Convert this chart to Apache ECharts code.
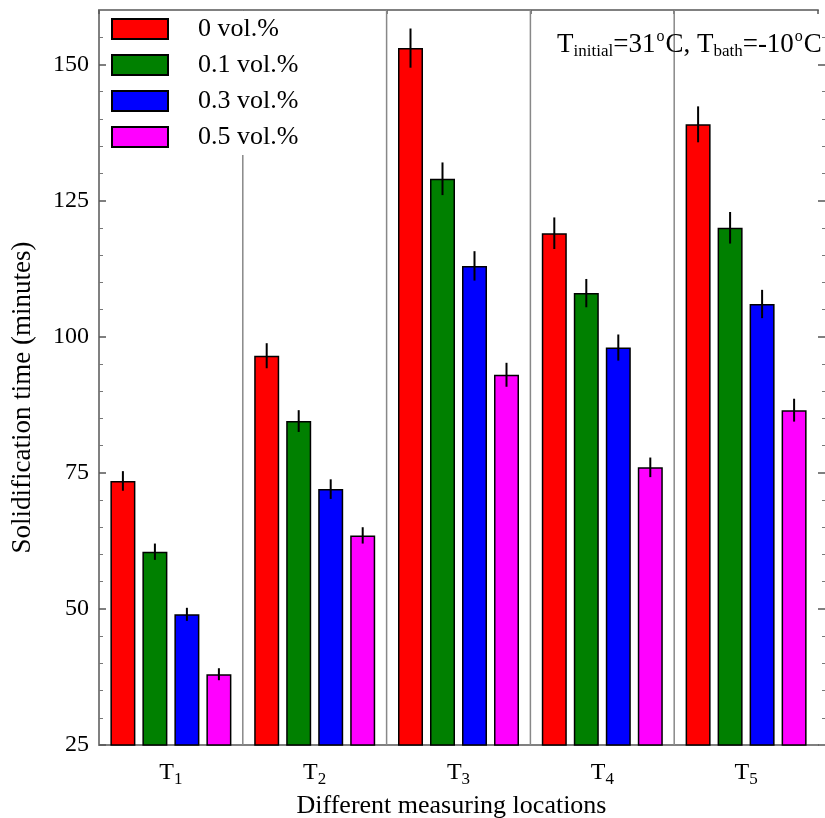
<!DOCTYPE html>
<html>
<head>
<meta charset="utf-8">
<script src="https://cdn.jsdelivr.net/npm/echarts@6/dist/echarts.min.js"></script>
<style>
html,body{margin:0;padding:0;background:#fff;}
#chart{width:825px;height:818px;}
</style>
</head>
<body>
<div id="chart"></div>
<script>
// ---- data ----
const categories = ['T1', 'T2', 'T3', 'T4', 'T5'];
const seriesNames = ['0 vol.%', '0.1 vol.%', '0.3 vol.%', '0.5 vol.%'];
const vol0  = [73.5, 96.5, 153, 119, 139];
const vol01 = [60.5, 84.5, 129, 108, 120];
const vol03 = [49, 72, 113, 98, 106];
const vol05 = [38, 63.5, 93, 76, 86.5];
const err0  = [1.8, 2.3, 3.6, 2.9, 3.3];
const err01 = [1.5, 2.0, 3.0, 2.6, 2.9];
const err03 = [1.2, 1.8, 2.7, 2.4, 2.6];
const err05 = [1.1, 1.5, 2.2, 1.8, 2.1];
const majorTicks = [25, 50, 75, 100, 125, 150];
const minorTicks = [30, 35, 40, 45, 55, 60, 65, 70, 80, 85, 90, 95, 105, 110, 115, 120, 130, 135, 140, 145, 155];
const separators = [1, 2, 3, 4];   // boundaries between location groups
const yMin = 25, yMax = 160;

// ---- style ----
const colors = ['#ff0000', '#008000', '#0000ff', '#ff00ff'];
const FONT = 'Liberation Serif';
const BAR_W = 25, GAP_RATIO = 0.28;
const axisGrey = '#808080';

const values = [vol0, vol01, vol03, vol05];
const errors = [err0, err01, err03, err05];

const errData = [];
values.forEach((vals, s) => {
  vals.forEach((v, c) => errData.push([c, v, errors[s][c], s]));
});

const chart = echarts.init(document.getElementById('chart'), null, {renderer: 'canvas'});

const barSeries = seriesNames.map((name, s) => ({
  name: name,
  type: 'bar',
  data: values[s],
  barWidth: BAR_W,
  barGap: (GAP_RATIO * 100) + '%',
  itemStyle: {color: colors[s], borderColor: '#000', borderWidth: 1.5},
  emphasis: {disabled: true},
  z: 2
}));

const errSeries = {
  type: 'custom',
  name: 'err',
  data: errData,
  encode: {x: 0, y: 1},
  z: 5,
  silent: true,
  renderItem: function (params, api) {
    const c = api.value(0), v = api.value(1), e = api.value(2), s = api.value(3);
    const step = BAR_W * (1 + GAP_RATIO);
    const off = (s - 1.5) * step;
    const top = api.coord([c, v + e]);
    const bot = api.coord([c, v - e]);
    return {
      type: 'line',
      shape: {x1: top[0] + off, y1: top[1], x2: bot[0] + off, y2: bot[1]},
      style: {stroke: '#000', lineWidth: 2}
    };
  }
};

const sepSeries = {
  type: 'custom',
  name: 'sep',
  xAxisIndex: 1,
  yAxisIndex: 0,
  data: separators.map(b => [b, yMin]),
  encode: {x: 0, y: 1},
  z: 1,
  silent: true,
  renderItem: function (params, api) {
    const p = api.coord([api.value(0), yMin]);
    const cs = params.coordSys;
    return {
      type: 'line',
      shape: {x1: p[0], y1: cs.y, x2: p[0], y2: cs.y + cs.height},
      style: {stroke: '#888', lineWidth: 1.5}
    };
  }
};

const option = {
  backgroundColor: '#fff',
  animation: false,
  grid: {left: 99, right: 7, top: 10, bottom: 73, outerBoundsMode: 'none', containLabel: false},
  legend: {
    data: seriesNames,
    orient: 'vertical',
    left: 106,
    top: 11,
    padding: 5,
    itemWidth: 56,
    itemHeight: 20,
    itemGap: 10,
    icon: 'rect',
    backgroundColor: '#fff',
    selectedMode: false,
    textStyle: {fontFamily: FONT, fontSize: 26, color: '#000', padding: [0, 0, 0, 25]},
    z: 10
  },
  xAxis: [{
    type: 'category',
    data: categories,
    position: 'bottom',
    axisLine: {show: true, lineStyle: {color: axisGrey, width: 2}},
    axisTick: {show: false},
    splitLine: {show: false},
    axisLabel: {
      margin: 14,
      formatter: function (v) { return '{t|' + v.charAt(0) + '}{s|' + v.slice(1) + '}'; },
      rich: {
        t: {fontFamily: FONT, fontSize: 24, color: '#000', lineHeight: 28},
        s: {fontFamily: FONT, fontSize: 17, color: '#000', lineHeight: 17, padding: [13, 0, 0, 0]}
      }
    },
    name: 'Different measuring locations',
    nameLocation: 'middle',
    nameGap: 38,
    nameTextStyle: {fontFamily: FONT, fontSize: 26, color: '#000', padding: [0, 14, 0, 0]}
  }, {
    type: 'value',
    min: 0, max: 5, interval: 1,
    position: 'top',
    axisLine: {show: true, lineStyle: {color: axisGrey, width: 2}},
    axisTick: {show: true, inside: true, length: 4, lineStyle: {color: '#555', width: 1.5}},
    axisLabel: {show: false},
    splitLine: {show: false}
  }],
  yAxis: [{
    type: 'value',
    min: yMin, max: yMax, interval: 25,
    position: 'left',
    axisLine: {show: true, lineStyle: {color: axisGrey, width: 2}},
    axisTick: {show: true, inside: true, length: 7, customValues: majorTicks, lineStyle: {color: '#555', width: 1.5}},
    axisLabel: {customValues: majorTicks, fontFamily: FONT, fontSize: 24, color: '#000', margin: 10},
    splitLine: {show: false},
    name: 'Solidification time (minutes)',
    nameLocation: 'middle',
    nameGap: 63,
    nameTextStyle: {fontFamily: FONT, fontSize: 27, color: '#000', padding: [0, 40, 0, 0]}
  }, {
    type: 'value',
    min: yMin, max: yMax, interval: 25,
    position: 'left',
    axisLine: {show: false},
    axisTick: {show: true, inside: true, length: 4, customValues: minorTicks, lineStyle: {color: '#777', width: 1}},
    axisLabel: {show: false},
    splitLine: {show: false}
  }, {
    type: 'value',
    min: yMin, max: yMax, interval: 25,
    position: 'right',
    offset: 7,
    axisLine: {show: false},
    axisTick: {show: true, inside: true, length: 7, customValues: majorTicks, lineStyle: {color: '#555', width: 1.5}},
    axisLabel: {show: false},
    splitLine: {show: false}
  }, {
    type: 'value',
    min: yMin, max: yMax, interval: 25,
    position: 'right',
    offset: 7,
    axisLine: {show: false},
    axisTick: {show: true, inside: true, length: 3, customValues: minorTicks, lineStyle: {color: '#777', width: 1}},
    axisLabel: {show: false},
    splitLine: {show: false}
  }],
  graphic: [{
    type: 'text',
    left: 557,
    top: 29,
    z: 20,
    style: {
      text: '{m|T}{s|initial}{m|=31}{p|o}{m|C, T}{s|bath}{m|=-10}{p|o}{m|C}',
      rich: {
        m: {fontFamily: FONT, fontSize: 27, lineHeight: 31, fill: '#000'},
        s: {fontFamily: FONT, fontSize: 17, lineHeight: 17, padding: [14, 0, 0, 0], fill: '#000'},
        p: {fontFamily: FONT, fontSize: 16, lineHeight: 16, padding: [0, 1, 15, 1], fill: '#000'}
      }
    }
  }],
  series: [sepSeries].concat(barSeries, [errSeries])
};

chart.setOption(option);
</script>
</body>
</html>
